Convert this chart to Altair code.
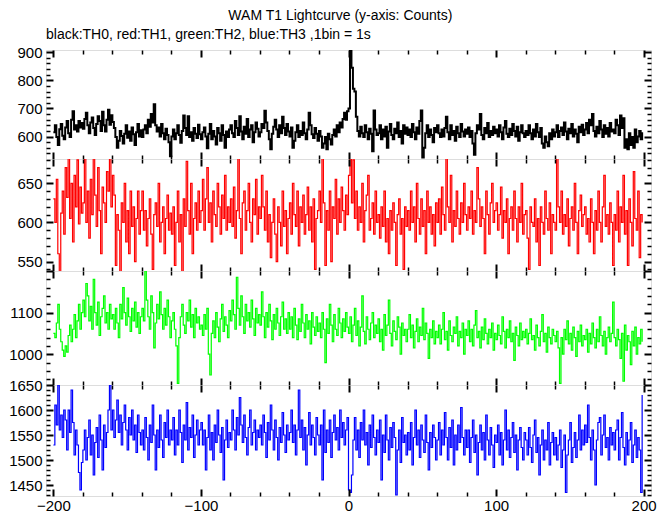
import altair as alt
import pandas as pd

# time bins (1 bin = 1 s), from -200 s to +199 s
t0 = -200
n_bins = 400

# TH0 (black)
th0 = [
    615, 640, 598, 570, 626, 645, 603, 590, 632, 655, 612, 598, 660, 690, 625, 640, 618, 655, 632, 648,
    628, 662, 685, 640, 612, 650, 668, 630, 605, 645, 672, 655, 620, 688, 640, 618, 660, 695, 642, 676,
    652, 630, 598, 560, 585, 620, 602, 575, 610, 640, 596, 618, 585, 632, 608, 570, 615, 645, 600, 622,
    598, 625, 640, 612, 660, 635, 680, 650, 715, 640, 618, 632, 600, 645, 612, 590, 628, 605, 580, 530,
    600, 625, 590, 612, 640, 605, 578, 620, 675, 630, 605, 672, 598, 615, 585, 630, 610, 595, 642, 608,
    590, 615, 632, 600, 558, 610, 645, 590, 620, 600, 572, 630, 612, 585, 640, 605, 560, 618, 598, 625,
    640, 612, 598, 655, 630, 605, 672, 618, 590, 635, 610, 662, 598, 625, 640, 580, 615, 650, 628, 600,
    615, 645, 630, 692, 650, 620, 590, 555, 610, 635, 660, 625, 598, 640, 612, 670, 630, 605, 645, 618,
    600, 632, 560, 585, 615, 640, 598, 620, 605, 650, 612, 590, 625, 685, 640, 608, 595, 630, 610, 585,
    620, 600, 560, 575, 598, 555, 610, 590, 572, 605, 625, 600, 640, 615, 650, 632, 662, 685, 660, 690,
    700, 920, 845, 770, 760, 670, 620, 600, 635, 612, 598, 640, 615, 590, 628, 610, 548, 693, 625, 605,
    612, 640, 590, 625, 600, 635, 560, 618, 645, 605, 590, 628, 612, 650, 598, 620, 575, 640, 610, 632,
    605, 625, 598, 645, 615, 590, 632, 610, 655, 693, 525, 560, 612, 640, 598, 625, 605, 580, 630, 615,
    640, 612, 598, 625, 600, 630, 670, 615, 590, 640, 605, 620, 585, 635, 612, 598, 645, 618, 600, 625,
    610, 632, 598, 620, 575, 535, 612, 640, 625, 680, 605, 590, 630, 612, 648, 598, 620, 605, 635, 612,
    625, 600, 640, 615, 590, 632, 655, 610, 598, 628, 605, 645, 620, 600, 635, 585, 615, 640, 612, 598,
    620, 605, 640, 612, 590, 625, 600, 645, 615, 598, 630, 575, 560, 600, 580, 565, 612, 590, 625, 600,
    615, 640, 598, 620, 632, 605, 650, 618, 590, 628, 612, 645, 600, 625, 610, 580, 635, 615, 642, 605,
    625, 648, 612, 660, 640, 680, 620, 600, 635, 612, 655, 625, 598, 640, 610, 630, 600, 648, 618, 625,
    612, 660, 640, 605, 675, 630, 665, 560, 590, 555, 612, 570, 598, 560, 625, 580, 600, 620, 590, 615,
]

# TH1 (red)
th1 = [
    630, 600, 655, 560, 535, 612, 640, 585, 670, 632, 690, 605, 650, 575, 660, 620, 680, 598, 645, 612,
    625, 685, 600, 640, 580, 655, 610, 690, 635, 595, 670, 615, 560, 645, 625, 600, 665, 640, 688, 620,
    660, 635, 545, 610, 590, 530, 625, 600, 650, 575, 615, 560, 640, 595, 620, 550, 605, 640, 585, 615,
    640, 590, 615, 570, 605, 630, 585, 540, 610, 625, 595, 650, 575, 600, 620, 560, 605, 635, 590, 612,
    585, 620, 545, 600, 640, 575, 610, 535, 630, 595, 678, 615, 585, 650, 560, 605, 625, 590, 640, 600,
    615, 655, 590, 630, 670, 600, 625, 575, 640, 610, 595, 650, 620, 585, 635, 605, 660, 590, 620, 600,
    630, 595, 645, 580, 615, 685, 605, 560, 625, 640, 590, 615, 650, 600, 575, 630, 610, 655, 585, 620,
    605, 660, 620, 590, 640, 575, 610, 555, 600, 630, 585, 550, 620, 600, 570, 640, 595, 615, 560, 605,
    625, 585, 650, 610, 595, 640, 570, 620, 600, 635, 585, 610, 645, 590, 620, 575, 630, 540, 605, 615,
    640, 600, 688, 625, 545, 615, 590, 640, 550, 620, 605, 655, 585, 630, 600, 645, 615, 590, 635, 610,
    660, 690, 625, 680, 605, 640, 590, 620, 600, 650, 575, 615, 635, 660, 590, 605, 625, 585, 640, 600,
    610, 580, 620, 595, 640, 575, 605, 560, 615, 590, 625, 600, 545, 610, 630, 585, 605, 540, 620, 595,
    615, 590, 640, 600, 620, 575, 650, 605, 585, 630, 595, 615, 560, 640, 600, 620, 585, 610, 570, 625,
    600, 630, 585, 645, 610, 590, 685, 620, 600, 660, 575, 615, 595, 640, 605, 585, 625, 600, 650, 610,
    590, 620, 605, 640, 585, 615, 600, 670, 630, 595, 620, 605, 560, 640, 610, 585, 625, 650, 600, 615,
    625, 590, 610, 645, 580, 615, 600, 630, 560, 605, 620, 590, 640, 605, 575, 620, 600, 650, 585, 610,
    615, 580, 540, 620, 600, 595, 630, 575, 605, 545, 620, 600, 585, 640, 605, 590, 625, 560, 610, 600,
    590, 685, 620, 600, 640, 585, 610, 595, 630, 570, 605, 620, 590, 650, 600, 560, 615, 635, 595, 610,
    620, 585, 605, 575, 630, 600, 560, 615, 590, 640, 600, 575, 620, 660, 595, 610, 585, 625, 600, 545,
    610, 590, 640, 575, 620, 600, 660, 585, 615, 545, 630, 600, 570, 665, 605, 590, 640, 555, 610, 600,
]

# TH2 (green)
th2 = [
    1050, 1040, 1075, 1120, 1060, 1030, 1010, 995, 1020, 1005, 1045, 1070, 1030, 1060, 1095, 1040, 1080, 1120, 1060, 1100,
    1130, 1090, 1170, 1140, 1080, 1115, 1060, 1180, 1100, 1070, 1125, 1045, 1090, 1110, 1140, 1075, 1100, 1060, 1120, 1085,
    1095, 1060, 1110, 1075, 1040, 1120, 1085, 1160, 1100, 1070, 1135, 1090, 1055, 1110, 1080, 1125, 1065, 1100, 1050, 1090,
    1110, 1080, 1200, 1130, 1090, 1060, 1140, 1100, 1015, 1075, 1120, 1085, 1150, 1095, 1060, 1110, 1070, 1130, 1090, 1040,
    1080, 1100, 1060, 1020, 930, 1040, 1090, 1120, 1070, 1050, 1100, 1080, 1130, 1065, 1095, 1040, 1110, 1075, 1090, 1060,
    1070, 1045, 1095, 1060, 1110, 1000, 950, 1050, 1080, 1040, 1100, 1065, 1030, 1085, 1120, 1055, 1090, 1070, 1040, 1105,
    1080, 1130, 1095, 1060, 1185, 1110, 1070, 1140, 1090, 1050, 1120, 1080, 1100, 1065, 1130, 1085, 1045, 1110, 1075, 1095,
    1070, 1150, 1090, 1040, 1100, 1065, 1120, 1080, 1035, 1095, 1060, 1110, 1075, 1045, 1090, 1125, 1060, 1085, 1050, 1100,
    1060, 1090, 1040, 1110, 1070, 1035, 1085, 1055, 1120, 1075, 1040, 1095, 1060, 1080, 1025, 1100, 1065, 1045, 1090, 1055,
    1075, 1040, 1100, 1060, 980, 1085, 1050, 1120, 1070, 1030, 1095, 1060, 1045, 1110, 1075, 1040, 1085, 1055, 1100, 1065,
    1050, 1090, 1030, 1070, 1110, 1045, 1080, 1020, 1065, 1140, 1055, 1025, 1090, 1060, 1035, 1075, 1100, 1040, 1070, 1050,
    1085, 1030, 1060, 1010, 1095, 1045, 1070, 1130, 1050, 1020, 1080, 1055, 1035, 1090, 1065, 1000, 1075, 1045, 1060, 1030,
    1060, 1095, 1040, 1070, 1015, 1055, 1085, 1030, 1065, 1045, 1110, 1035, 1075, 1050, 990, 1060, 1040, 1080, 1025, 1055,
    1040, 1070, 1025, 1060, 1100, 1035, 1055, 1010, 1080, 1045, 1030, 1065, 1050, 1090, 1020, 1055, 1040, 1075, 1000, 1060,
    1045, 1080, 1030, 1060, 1020, 1070, 1105, 1040, 1055, 1015, 1065, 1035, 1085, 1050, 1025, 1060, 1040, 1075, 1010, 1050,
    1035, 1070, 1045, 1025, 1090, 1055, 1015, 1060, 1040, 1080, 1030, 1050, 985, 1065, 1045, 1020, 1075, 1035, 1055, 1040,
    1060, 1025, 1050, 1085, 1035, 1045, 1010, 1070, 1040, 1020, 1055, 1095, 1030, 1050, 1005, 1065, 1040, 1025, 1060, 1045,
    1030, 1055, 1015, 930, 1040, 1000, 1060, 1035, 1080, 1025, 1050, 1010, 1065, 1040, 995, 1055, 1030, 1070, 1020, 1045,
    1035, 1060, 1005, 1050, 1025, 1075, 1040, 1015, 1060, 1030, 1090, 1045, 1020, 1055, 1000, 1040, 1065, 1030, 1050, 1125,
    1040, 1020, 1060, 1035, 990, 1050, 935, 1070, 1010, 1045, 1030, 975, 1055, 1020, 1065, 1000, 1040, 1025, 1060, 1030,
]

# TH3 (blue)
th3 = [
    1530, 1610, 1570, 1650, 1560, 1590, 1545, 1600, 1580, 1520, 1600, 1555, 1640, 1575, 1510, 1560, 1530, 1475, 1440, 1495,
    1520, 1560, 1500, 1545, 1580, 1510, 1550, 1470, 1535, 1565, 1505, 1590, 1540, 1480, 1570, 1525, 1555, 1600, 1650, 1560,
    1600, 1545, 1580, 1620, 1555, 1590, 1530, 1575, 1610, 1560, 1520, 1585, 1550, 1600, 1540, 1570, 1515, 1590, 1555, 1530,
    1560, 1520, 1585, 1545, 1500, 1570, 1535, 1610, 1550, 1480, 1560, 1525, 1590, 1540, 1505, 1575, 1545, 1600, 1530, 1560,
    1540, 1585, 1510, 1560, 1530, 1600, 1555, 1495, 1570, 1540, 1615, 1520, 1565, 1545, 1590, 1505, 1550, 1580, 1530, 1560,
    1575, 1530, 1560, 1480, 1545, 1590, 1520, 1555, 1500, 1570, 1535, 1600, 1550, 1515, 1565, 1460, 1540, 1580, 1525, 1555,
    1540, 1600, 1560, 1520, 1585, 1550, 1625, 1570, 1535, 1590, 1545, 1510, 1565, 1600, 1530, 1555, 1580, 1520, 1560, 1545,
    1570, 1530, 1590, 1555, 1505, 1575, 1540, 1610, 1560, 1520, 1580, 1545, 1500, 1565, 1535, 1595, 1550, 1515, 1570, 1540,
    1555, 1600, 1535, 1570, 1510, 1560, 1640, 1545, 1580, 1520, 1565, 1490, 1550, 1595, 1530, 1570, 1545, 1510, 1585, 1550,
    1530, 1570, 1460, 1600, 1515, 1560, 1535, 1580, 1505, 1555, 1590, 1540, 1565, 1520, 1600, 1545, 1575, 1530, 1560, 1585,
    1440, 1435, 1470, 1540, 1585, 1520, 1560, 1505, 1575, 1540, 1600, 1530, 1555, 1490, 1570, 1525, 1590, 1545, 1510, 1560,
    1535, 1580, 1460, 1550, 1515, 1590, 1540, 1500, 1565, 1525, 1575, 1545, 1430, 1520, 1560, 1495, 1585, 1535, 1550, 1510,
    1555, 1520, 1575, 1490, 1545, 1600, 1530, 1560, 1505, 1570, 1540, 1515, 1590, 1535, 1480, 1555, 1525, 1570, 1545, 1500,
    1540, 1575, 1510, 1560, 1530, 1595, 1545, 1500, 1565, 1525, 1580, 1490, 1550, 1520, 1570, 1535, 1605, 1545, 1510, 1560,
    1525, 1560, 1495, 1545, 1580, 1515, 1550, 1470, 1535, 1570, 1520, 1555, 1500, 1590, 1540, 1510, 1565, 1530, 1485, 1550,
    1535, 1570, 1510, 1555, 1490, 1540, 1600, 1520, 1560, 1505, 1545, 1575, 1515, 1550, 1480, 1540, 1565, 1525, 1500, 1555,
    1540, 1510, 1565, 1525, 1495, 1550, 1580, 1515, 1545, 1470, 1530, 1560, 1500, 1540, 1520, 1575, 1490, 1535, 1555, 1510,
    1545, 1500, 1530, 1560, 1485, 1520, 1550, 1435, 1510, 1540, 1575, 1495, 1525, 1555, 1505, 1540, 1590, 1520, 1560, 1530,
    1570, 1535, 1610, 1545, 1500, 1560, 1520, 1450, 1540, 1575, 1585, 1510, 1550, 1590, 1525, 1545, 1500, 1565, 1530, 1555,
    1520, 1560, 1580, 1500, 1545, 1595, 1525, 1490, 1555, 1510, 1540, 1575, 1495, 1530, 1560, 1505, 1545, 1520, 1435, 1630,
]

series_colors = ["#000000", "#ff0000", "#00ff00", "#0000ff"]
y_domains = [[520, 908], [538, 681], [926, 1200], [1428, 1650]]
y_label_values = [[600, 700, 800, 900], [550, 600, 650], [1000, 1100], [1450, 1500, 1550, 1600, 1650]]
y_minor_step = [20, 10, 20, 10]
y_major_step = [100, 50, 100, 50]
x_domain = [-205, 205]
x_label_values = [-200, -100, 0, 100, 200]

W = 605
heights = [109, 112, 114, 111]
FONT = "Liberation Sans"

times = list(range(t0, t0 + n_bins))


def tick_size(step):
    return {"condition": {"test": f"datum.value % {step} === 0", "value": 7}, "value": 4}


def tick_width(step):
    return {"condition": {"test": f"datum.value % {step} === 0", "value": 2}, "value": 1.5}


def panel(vals, idx, bottom, title=None):
    h = heights[idx]
    df = pd.DataFrame({"t": times, "c": vals})
    xsc = alt.Scale(domain=x_domain, nice=False, zero=False)
    lo, hi = y_domains[idx]
    st = y_minor_step[idx]
    yt = [v for v in range(int(lo) - int(lo) % st + st, int(hi) + 1, st)]
    ysc = alt.Scale(domain=y_domains[idx], nice=False, zero=False)
    xt = list(range(-200, 201, 20))
    base = alt.Chart(df)
    sw = 2 if idx == 0 else 1.2
    line = base.mark_line(color=series_colors[idx], strokeWidth=sw, interpolate="step-after", clip=True).encode(
        x=alt.X("t:Q", scale=xsc, axis=alt.Axis(orient="bottom", offset=-h, values=xt, labels=False, domain=False,
                                              grid=False, tickSize=tick_size(100), tickWidth=tick_width(100),
                                              tickColor="black", zindex=2, title=None)),
        y=alt.Y("c:Q", scale=ysc, axis=alt.Axis(orient="left", values=y_label_values[idx], ticks=False, domain=False,
                                              grid=False, labelFontSize=15, labelFont=FONT, labelColor="black",
                                              labelPadding=4, labelFlush=False, labelOverlap=False, labelBound=False,
                                              format="d", title=None)),
    )
    g1 = base.mark_line(opacity=0, clip=True).encode(
        x=alt.X("t:Q", scale=xsc, axis=alt.Axis(orient="top", offset=-h, values=xt, labels=False, domain=False,
                                              grid=False, tickSize=tick_size(100), tickWidth=tick_width(100),
                                              tickColor="black", zindex=2, title=None)),
        y=alt.Y("c:Q", scale=ysc, axis=alt.Axis(orient="right", offset=-W, values=yt, labels=False, domain=False,
                                              grid=False, tickSize=tick_size(y_major_step[idx]),
                                              tickWidth=tick_width(y_major_step[idx]),
                                              tickColor="black", zindex=2, title=None)),
    )
    if bottom:
        xax = alt.Axis(orient="bottom", values=x_label_values, ticks=False, domain=False, grid=False,
                       labelFontSize=15, labelFont=FONT, labelColor="black", labelPadding=2, format="d",
                       labelFlush=False, labelOverlap=False, title=None)
    else:
        xax = None
    g2 = base.mark_line(opacity=0, clip=True).encode(
        x=alt.X("t:Q", scale=xsc, axis=xax),
        y=alt.Y("c:Q", scale=ysc, axis=alt.Axis(orient="left", offset=-W, values=yt, labels=False, domain=False,
                                              grid=False, tickSize=tick_size(y_major_step[idx]),
                                              tickWidth=tick_width(y_major_step[idx]),
                                              tickColor="black", zindex=2, title=None)),
    )
    props = dict(width=W, height=h)
    if title is not None:
        props["title"] = alt.TitleParams(title, anchor="start", frame="group", fontSize=14, font=FONT,
                                         fontWeight="normal", color="black", offset=3)
    return alt.layer(line, g1, g2).resolve_axis(x="independent", y="independent").properties(**props)


panels = [
    panel(th0, 0, False, "black:TH0, red:TH1, green:TH2, blue:TH3 ,1bin = 1s"),
    panel(th1, 1, False),
    panel(th2, 2, False),
    panel(th3, 3, True),
]

chart = alt.vconcat(*panels, spacing=0, bounds="flush").properties(
    title=alt.TitleParams("WAM T1 Lightcurve (y-axis: Counts)", anchor="middle", fontSize=14, font=FONT,
                          fontWeight="normal", color="black", offset=6, dx=8, dy=1),
    padding=0,
).configure_view(stroke="black", strokeWidth=2).configure(font=FONT)

chart.save("out.html", embed_options={"renderer": "svg", "actions": False})
